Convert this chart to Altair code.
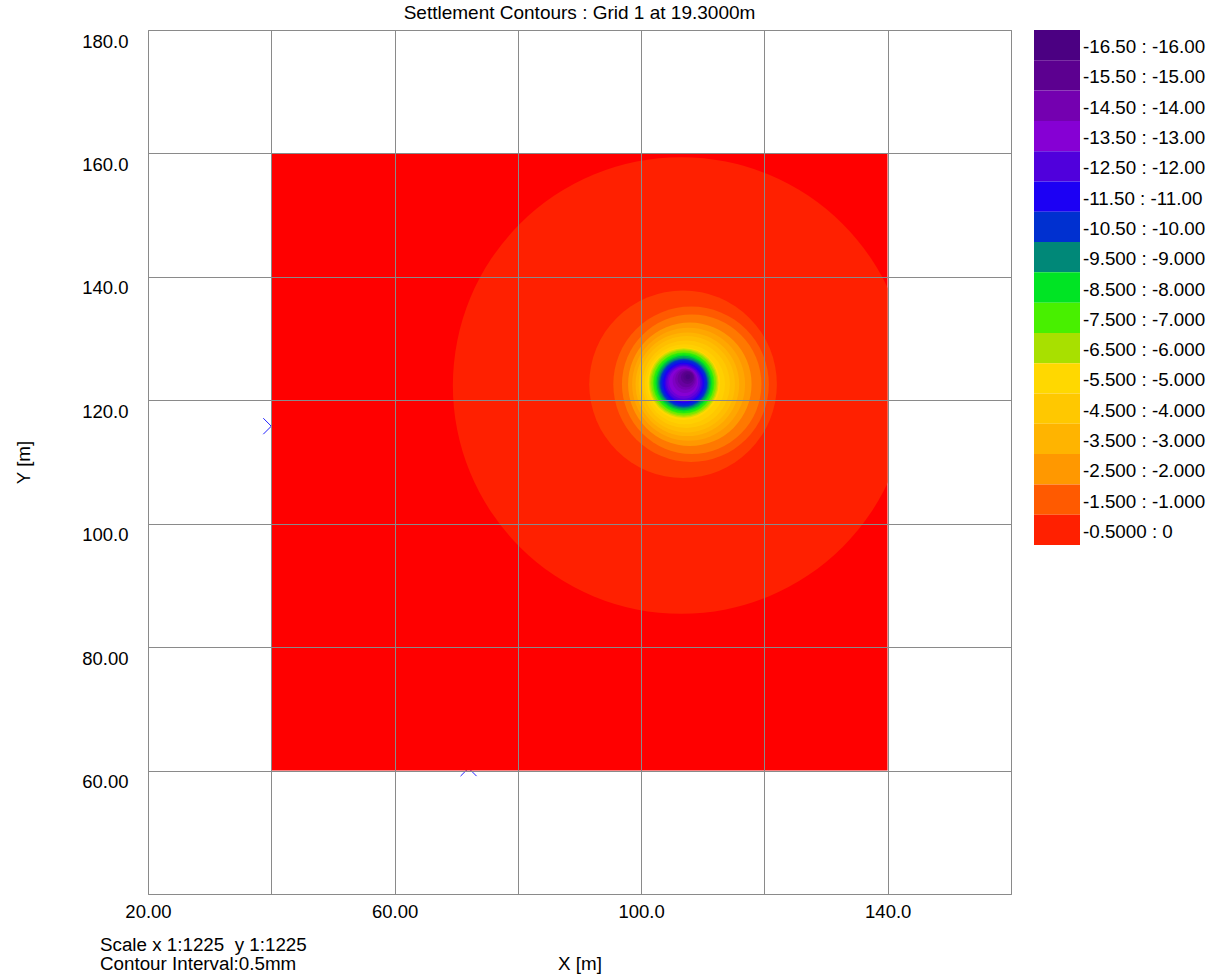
import math
import altair as alt
import pandas as pd

# ---------------- data ----------------
TITLE = "Settlement Contours : Grid 1 at 19.3000m"
X_TITLE = "X [m]"
Y_TITLE = "Y [m]"
NOTE_LINES = ["Scale x 1:1225\u00a0 y 1:1225", "Contour Interval:0.5mm"]

X_DOMAIN = [20, 160]
Y_DOMAIN = [40, 180]
X_TICKS = [20, 40, 60, 80, 100, 120, 140, 160]
Y_TICKS = [40, 60, 80, 100, 120, 140, 160, 180]

# extent of the calculation grid (red area)
grid_x = [40, 140]
grid_y = [60, 160]

# blue cross markers (partly hidden under the grid)
marker_x = [40.0, 72.0]
marker_y = [115.8, 60.4]

# contour bands, outermost first (settlement in mm)
band_hi = [0, -0.5, -1, -1.5, -2, -2.5, -3, -3.5, -4, -4.5, -5, -5.5, -6, -6.5, -7, -7.5,
           -8, -8.5, -9, -9.5, -10, -10.5, -11, -11.5, -12, -12.5, -13, -13.5, -14, -14.5,
           -15, -15.5, -16]
band_colors = ["#ff2000", "#ff3c00", "#ff5a00", "#ff7800", "#ff9800", "#ffa600", "#ffb400",
               "#ffbe00", "#ffc800", "#ffd000", "#ffd800", "#d4dc00", "#a8e000", "#78e800",
               "#48f000", "#24e810", "#00e424", "#00b44c", "#008878", "#005ca4", "#0030d0",
               "#0c18e4", "#1c00f4", "#3600e8", "#5000dc", "#6c00d8", "#8600d4", "#7e00c2",
               "#7400b0", "#6800a0", "#5c0090", "#540089", "#4b0082"]
band_cx = [106.5, 106.8, 108.1, 108.2, 107.9, 107.7, 107.5, 107.4, 107.3, 107.1, 106.9,
           106.9, 106.9, 106.9, 106.9, 106.9, 106.9, 106.9, 106.9, 106.9, 106.9, 106.9,
           106.9, 106.9, 106.9, 106.9, 106.9, 107.1, 107.2, 107.3, 107.5, 107.6, 107.6]
band_cy = [122.4, 122.6, 122.6, 122.6, 122.6, 122.6, 122.6, 122.6, 122.6, 122.6, 122.7,
           122.8, 122.8, 122.8, 122.8, 122.8, 122.8, 122.8, 122.8, 122.8, 122.8, 122.8,
           122.8, 122.8, 122.8, 122.9, 123.0, 123.2, 123.4, 123.5, 123.7, 123.8, 123.8]
band_r = [37.0, 15.2, 12.6, 11.3, 10.0, 9.15, 8.4, 7.8, 7.1, 6.5, 5.9, 5.65, 5.45, 5.25,
          5.0, 4.85, 4.6, 4.4, 4.15, 3.95, 3.8, 3.55, 3.3, 3.1, 2.9, 2.65, 2.35, 2.0, 1.7,
          1.4, 1.05, 0.75, 0.4]

# legend
legend_labels = ["-16.50 : -16.00", "-15.50 : -15.00", "-14.50 : -14.00", "-13.50 : -13.00",
                 "-12.50 : -12.00", "-11.50 : -11.00", "-10.50 : -10.00", "-9.500 : -9.000",
                 "-8.500 : -8.000", "-7.500 : -7.000", "-6.500 : -6.000", "-5.500 : -5.000",
                 "-4.500 : -4.000", "-3.500 : -3.000", "-2.500 : -2.000", "-1.500 : -1.000",
                 "-0.5000 : 0"]
legend_colors = ["#4b0082", "#5c0090", "#7400b0", "#8600d4", "#5000dc", "#1c00f4", "#0030d0",
                 "#008878", "#00e424", "#48f000", "#a8e000", "#ffd800", "#ffc800", "#ffb400",
                 "#ff9800", "#ff5a00", "#ff2000"]

# ---------------- layout ----------------
FONT = "Liberation Sans"
FS_TICK = 18.5
FS_TEXT = 18.8
FS_TITLE = 19
W, H = 863, 864
K = H / (Y_DOMAIN[1] - Y_DOMAIN[0])  # pixels per metre
GRID = "#8a8a8a"

xs = alt.Scale(domain=X_DOMAIN, nice=False, zero=False)
ys = alt.Scale(domain=Y_DOMAIN, nice=False, zero=False)

x_axis = alt.Axis(
    values=X_TICKS, grid=True, gridColor=GRID, gridWidth=1, ticks=False, domain=False,
    labelExpr="datum.value % 40 == 20 ? (datum.value < 100 ? format(datum.value, '.2f') : format(datum.value, '.1f')) : ''",
    labelFont=FONT, labelFontSize=FS_TICK, labelColor="#000000", labelPadding=8,
    labelFlush=False, labelOverlap=False,
    title=X_TITLE, titleFont=FONT, titleFontSize=FS_TEXT, titleFontWeight="normal",
    titleColor="#000000", titlePadding=34, zindex=1,
)
y_axis = alt.Axis(
    values=Y_TICKS, grid=True, gridColor=GRID, gridWidth=1, ticks=False, domain=False,
    labelExpr="datum.value == 40 ? '' : (datum.value < 100 ? format(datum.value, '.2f') : format(datum.value, '.1f'))",
    labelFont=FONT, labelFontSize=FS_TICK, labelColor="#000000", labelPadding=20,
    labelBaseline="top", labelOffset=2, labelFlush=False, labelOverlap=False,
    title=Y_TITLE, titleFont=FONT, titleFontSize=FS_TEXT, titleFontWeight="normal",
    titleColor="#000000", titlePadding=48, zindex=1,
)

markers = alt.Chart(pd.DataFrame({"x": marker_x, "y": marker_y})).mark_point(
    shape="M-1,-1L1,1M-1,1L1,-1", filled=False, stroke="#2020ff", strokeWidth=1, size=256, opacity=1
).encode(x=alt.X("x:Q", scale=xs, axis=x_axis), y=alt.Y("y:Q", scale=ys, axis=y_axis))

grid_rect = alt.Chart(pd.DataFrame({"x": [grid_x[0]], "x2": [grid_x[1]], "y": [grid_y[0]], "y2": [grid_y[1]]})).mark_rect(
    color="#ff0000"
).encode(x=alt.X("x:Q", scale=xs, axis=x_axis), x2="x2", y=alt.Y("y:Q", scale=ys, axis=y_axis), y2="y2")

bands_df = pd.DataFrame({
    "hi": band_hi, "x": band_cx, "y": band_cy, "r": band_r, "order": list(range(len(band_hi))),
})
bands = alt.Chart(bands_df).mark_arc(theta=0, theta2=2 * math.pi, strokeWidth=0).encode(
    x=alt.X("x:Q", scale=xs, axis=x_axis),
    y=alt.Y("y:Q", scale=ys, axis=y_axis),
    radius=alt.Radius("r:Q", stack=False,
                      scale=alt.Scale(type="linear", domain=[0, 40], range=[0, 40 * K])),
    color=alt.Color("hi:O", scale=alt.Scale(domain=band_hi, range=band_colors), legend=None),
    order=alt.Order("order:Q"),
)

# white mask outside the grid on the right (the contour fill stops at the grid edge)
mask = alt.Chart(pd.DataFrame({"x": [grid_x[1]], "x2": [X_DOMAIN[1]], "y": [Y_DOMAIN[0]], "y2": [Y_DOMAIN[1]]})).mark_rect(
    color="#ffffff"
).encode(x=alt.X("x:Q", scale=xs, axis=x_axis), x2="x2", y=alt.Y("y:Q", scale=ys, axis=y_axis), y2="y2")

notes = alt.Chart(pd.DataFrame({"t": ["\n".join(NOTE_LINES)]})).mark_text(
    align="left", baseline="middle", font=FONT, fontSize=FS_TEXT, color="#000000", lineBreak="\n", lineHeight=19
).encode(x=alt.value(-48), y=alt.value(915), text="t:N")

main = alt.layer(markers, grid_rect, bands, mask, notes).properties(
    width=W, height=H,
    title=alt.TitleParams(TITLE, font=FONT, fontSize=FS_TITLE, fontWeight="normal", color="#000000",
                          anchor="middle", frame="group", offset=-8, baseline="alphabetic"),
    view=alt.ViewBackground(stroke=GRID, strokeWidth=1, fill="#ffffff"),
)

leg_df = pd.DataFrame({"label": legend_labels})
leg_y = alt.Y("label:N", sort=legend_labels, axis=None, scale=alt.Scale(paddingInner=0, paddingOuter=0))
leg_rect = alt.Chart(leg_df).mark_rect().encode(
    y=leg_y, x=alt.value(0), x2=alt.value(46),
    color=alt.Color("label:N", scale=alt.Scale(domain=legend_labels, range=legend_colors), legend=None),
)
leg_text = alt.Chart(leg_df).mark_text(
    align="left", baseline="middle", font=FONT, fontSize=FS_TEXT, color="#000000", dy=2
).encode(y=leg_y, x=alt.value(49), text="label:N")
legend = alt.layer(leg_rect, leg_text).properties(
    width=46, height=515, view=alt.ViewBackground(strokeWidth=0, fill="#ffffff")
)

chart = alt.hconcat(main, legend, spacing=23, bounds="flush").resolve_scale(
    color="independent"
).properties(
    padding={"left": 14, "top": 3, "right": 5, "bottom": 5}, background="#ffffff"
).configure(font=FONT)

chart.save("out.html", embed_options={"renderer": "svg", "actions": False})
